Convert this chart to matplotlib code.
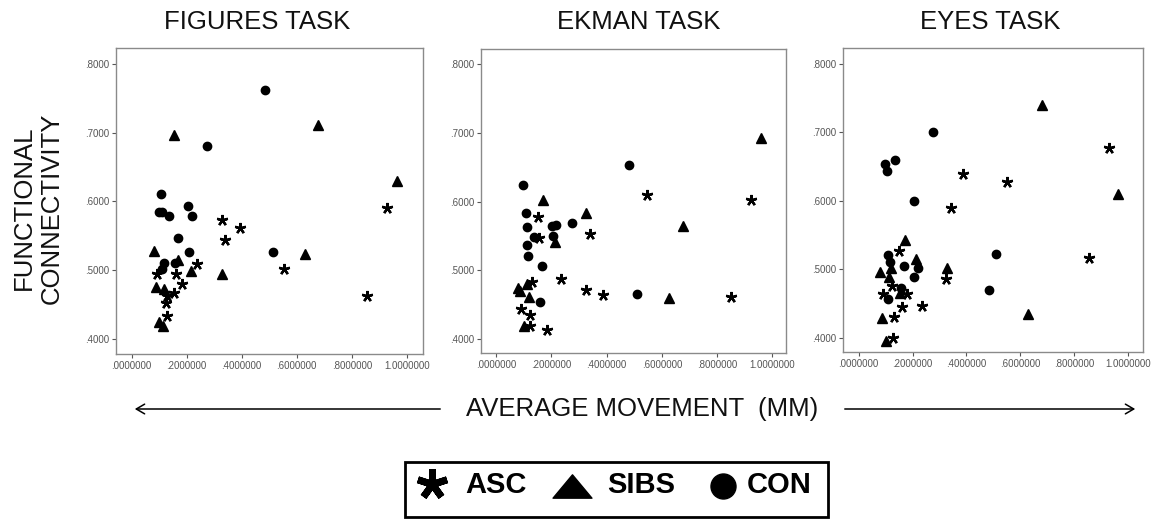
import numpy as np
import matplotlib.pyplot as plt
from matplotlib.patches import Rectangle
from matplotlib.path import Path

plt.rcParams['font.family'] = ['Liberation Sans', 'DejaVu Sans']

tasks = ['FIGURES TASK', 'EKMAN TASK', 'EYES TASK']
groups = ['ASC', 'SIBS', 'CON']

# FIGURES task
figures_asc_x = [0.929, 0.855, 0.552, 0.327, 0.393, 0.341, 0.236, 0.091, 0.161, 0.182, 0.153, 0.129, 0.124, 0.127]
figures_asc_y = [0.590, 0.463, 0.501, 0.573, 0.561, 0.544, 0.509, 0.494, 0.494, 0.480, 0.466, 0.462, 0.452, 0.433]
figures_sibs_x = [0.153, 0.679, 0.964, 0.081, 0.630, 0.329, 0.215, 0.169, 0.088, 0.118, 0.099, 0.113]
figures_sibs_y = [0.697, 0.711, 0.630, 0.528, 0.523, 0.494, 0.498, 0.515, 0.475, 0.472, 0.425, 0.419]
figures_con_x = [0.484, 0.275, 0.107, 0.098, 0.112, 0.136, 0.205, 0.220, 0.168, 0.207, 0.513, 0.117, 0.111, 0.158]
figures_con_y = [0.762, 0.681, 0.610, 0.584, 0.584, 0.578, 0.593, 0.578, 0.546, 0.526, 0.526, 0.511, 0.501, 0.511]

# EKMAN task
ekman_asc_x = [0.548, 0.924, 0.151, 0.341, 0.157, 0.234, 0.324, 0.388, 0.851, 0.130, 0.090, 0.124, 0.124, 0.183]
ekman_asc_y = [0.609, 0.603, 0.578, 0.553, 0.547, 0.488, 0.472, 0.465, 0.462, 0.483, 0.444, 0.435, 0.419, 0.413]
ekman_sibs_x = [0.959, 0.171, 0.325, 0.677, 0.214, 0.627, 0.081, 0.088, 0.112, 0.119, 0.100]
ekman_sibs_y = [0.692, 0.602, 0.583, 0.565, 0.541, 0.460, 0.475, 0.470, 0.480, 0.462, 0.419]
ekman_con_x = [0.482, 0.099, 0.107, 0.111, 0.111, 0.117, 0.136, 0.204, 0.218, 0.206, 0.275, 0.167, 0.158, 0.511]
ekman_con_y = [0.654, 0.624, 0.583, 0.563, 0.537, 0.521, 0.548, 0.565, 0.566, 0.550, 0.569, 0.506, 0.454, 0.466]

# EYES task
eyes_asc_x = [0.928, 0.389, 0.551, 0.343, 0.854, 0.150, 0.325, 0.090, 0.124, 0.181, 0.162, 0.236, 0.130, 0.127]
eyes_asc_y = [0.677, 0.639, 0.628, 0.590, 0.516, 0.527, 0.486, 0.464, 0.475, 0.464, 0.445, 0.446, 0.430, 0.400]
eyes_sibs_x = [0.681, 0.963, 0.171, 0.214, 0.079, 0.120, 0.113, 0.327, 0.152, 0.088, 0.101, 0.629]
eyes_sibs_y = [0.740, 0.610, 0.542, 0.515, 0.496, 0.501, 0.488, 0.501, 0.465, 0.429, 0.395, 0.435]
eyes_con_x = [0.275, 0.099, 0.106, 0.136, 0.205, 0.511, 0.484, 0.110, 0.115, 0.167, 0.219, 0.207, 0.158, 0.110]
eyes_con_y = [0.700, 0.654, 0.644, 0.659, 0.600, 0.522, 0.469, 0.521, 0.511, 0.505, 0.502, 0.488, 0.472, 0.456]

x_ticks = [0.0, 0.2, 0.4, 0.6, 0.8, 1.0]
y_ticks = [0.4, 0.5, 0.6, 0.7, 0.8]

panels = [
    ((figures_asc_x, figures_asc_y), (figures_sibs_x, figures_sibs_y), (figures_con_x, figures_con_y)),
    ((ekman_asc_x, ekman_asc_y), (ekman_sibs_x, ekman_sibs_y), (ekman_con_x, ekman_con_y)),
    ((eyes_asc_x, eyes_asc_y), (eyes_sibs_x, eyes_sibs_y), (eyes_con_x, eyes_con_y)),
]

W, H = 1151, 519


def px_box(left, top, right, bottom):
    return [left / W, 1 - bottom / H, (right - left) / W, (bottom - top) / H]


axes_px = [(116, 48, 423, 354), (481, 49, 786, 353), (843, 48, 1143, 352)]
xlims = [(-0.057, 1.059), (-0.054, 1.049), (-0.058, 1.055)]
ylims = [(0.378, 0.823), (0.380, 0.822), (0.379, 0.823)]
title_x = [257, 639, 990]


def x_label(v):
    s = '%.7f' % v
    return s[1:] if s.startswith('0') else s


def y_label(v):
    return ('%.4f' % v)[1:]


fig = plt.figure(figsize=(W / 100, H / 100), dpi=100)
fig.patch.set_facecolor('white')

for i, data in enumerate(panels):
    ax = fig.add_axes(px_box(*axes_px[i]))
    (ax_, ay_), (sx, sy), (cx, cy) = data
    ax.plot(ax_, ay_, linestyle='none', marker=(5, 2, 0), markersize=8,
            markeredgewidth=1.7, color='black')
    ax.plot(sx, sy, linestyle='none', marker='^', markersize=6.5, color='black')
    ax.plot(cx, cy, linestyle='none', marker='o', markersize=6, color='black')
    ax.set_xlim(*xlims[i])
    ax.set_ylim(*ylims[i])
    ax.set_xticks(x_ticks)
    ax.set_xticklabels([x_label(v) for v in x_ticks])
    ax.set_yticks(y_ticks)
    ax.set_yticklabels([y_label(v) for v in y_ticks])
    ax.tick_params(direction='out', length=3, width=0.8, color='#555555',
                   labelsize=7, labelcolor='#555555', pad=2)
    for sp in ax.spines.values():
        sp.set_color('#8a8a8a')
        sp.set_linewidth(1.0)
    fig.text(title_x[i] / W, 1 - 22 / H, tasks[i], ha='center', va='center',
             fontsize=18.5, color='#111111')

fig.text(38 / W, 1 - 208 / H, 'FUNCTIONAL\nCONNECTIVITY', rotation=90,
         ha='center', va='center', multialignment='center', fontsize=18.5,
         linespacing=1.2, color='#111111')

# horizontal axis caption with arrows on both sides
arrow_y = 1 - 409 / H
arrow_style = dict(arrowstyle='->,head_length=0.6,head_width=0.35', lw=1.1, color='black')
fig.add_artist(plt.Annotation('', xy=(132 / W, arrow_y), xytext=(443 / W, arrow_y),
                              xycoords='figure fraction', arrowprops=arrow_style))
fig.add_artist(plt.Annotation('', xy=(1138 / W, arrow_y), xytext=(842 / W, arrow_y),
                              xycoords='figure fraction', arrowprops=arrow_style))
fig.text(642 / W, arrow_y, 'AVERAGE MOVEMENT  (MM)', ha='center', va='center',
         fontsize=18.5, color='#111111')

# legend box
fig.add_artist(Rectangle((405 / W, 1 - 517 / H), 423 / W, 55 / H,
                         transform=fig.transFigure, fill=False,
                         edgecolor='black', linewidth=2))
leg_y = 1 - 485 / H
wide_tri = Path([(-1.0, -0.6), (1.0, -0.6), (0.0, 0.6), (-1.0, -0.6)],
                [Path.MOVETO, Path.LINETO, Path.LINETO, Path.CLOSEPOLY])
leg_font = dict(family=['Liberation Sans Narrow', 'Liberation Sans'],
                fontweight='bold', fontsize=21, va='center', ha='left')
fig.add_artist(plt.Line2D([432 / W], [1 - 484 / H], transform=fig.transFigure,
                          marker=(5, 2, 0), markersize=22, markeredgewidth=5,
                          color='black', linestyle='none'))
fig.text(465 / W, leg_y, groups[0], **leg_font)
fig.add_artist(plt.Line2D([572 / W], [1 - 486 / H], transform=fig.transFigure,
                          marker=wide_tri, markersize=28, color='black',
                          linestyle='none'))
fig.text(607 / W, leg_y, groups[1], **leg_font)
fig.add_artist(plt.Line2D([723 / W], [1 - 486 / H], transform=fig.transFigure,
                          marker='o', markersize=18, color='black',
                          linestyle='none'))
fig.text(747 / W, leg_y, groups[2], **leg_font)

fig.savefig('out.png', dpi=100)
